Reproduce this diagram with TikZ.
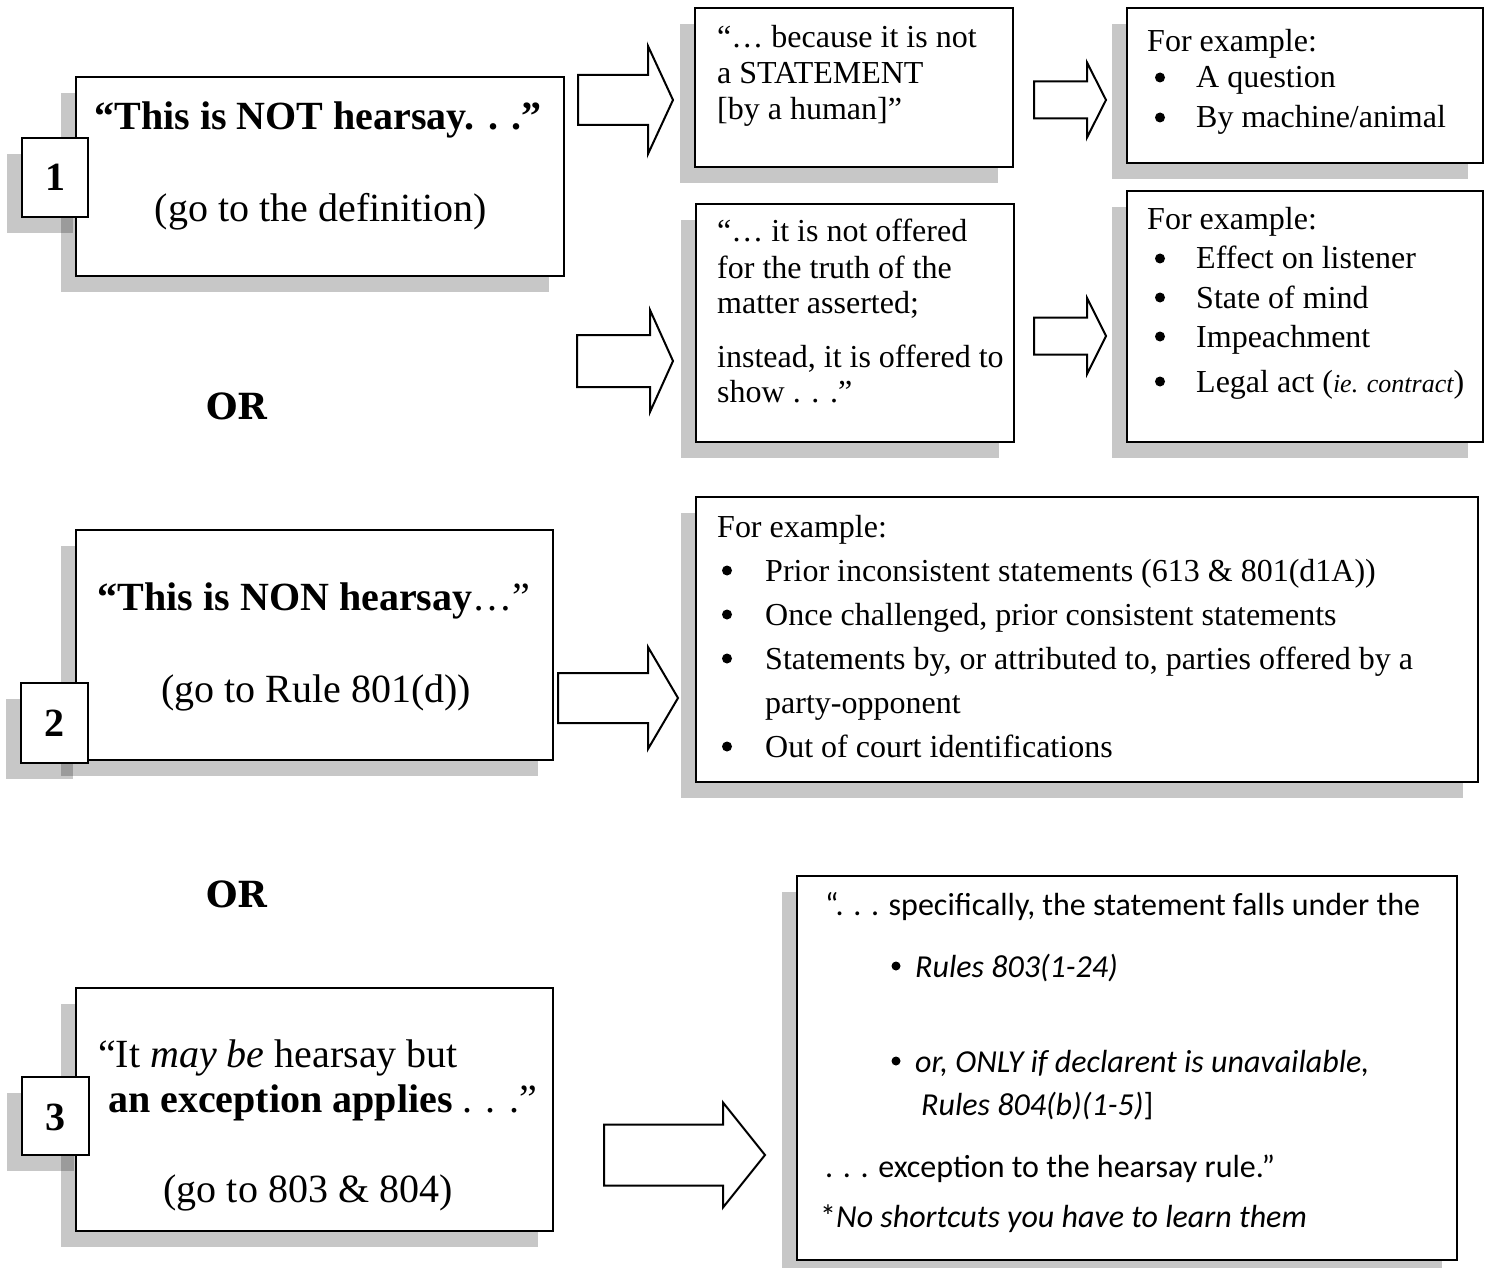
\documentclass[tikz,border=0pt]{standalone}
\usepackage{fontspec}
\setmainfont{Liberation Serif}
\newfontfamily\calfont{Carlito}
\newfontfamily\orfont{DejaVu Serif}
\usetikzlibrary{calc}
\tikzset{
  box/.style={draw=black, line width=2pt, fill=white, inner sep=0pt, outer sep=0pt, anchor=north west},
  shade/.style={fill=black, fill opacity=0.22, draw=none},
  blk/.style={draw=black, line width=2pt, fill=white, line join=miter},
  txt/.style={inner sep=0pt, anchor=base west},
  ctxt/.style={inner sep=0pt, anchor=base},
  big/.style={font=\fontsize{40}{46}\selectfont},
  med/.style={font=\fontsize{32}{38}\selectfont},
  cal/.style={font=\calfont\fontsize{32}{38}\selectfont},
  orst/.style={font=\orfont\bfseries\fontsize{36}{40}\selectfont},
  bul/.style={circle, fill=black, draw=none, inner sep=0pt, minimum size=10pt},
  cbul/.style={circle, fill=black, draw=none, inner sep=0pt, minimum size=9pt},
}
\newcommand\mybox[5]{%
  \fill[shade] ({#2-15},{#3+16}) rectangle ({#4-15},{#5+16});
  \pgfmathsetmacro\myw{#4-#2}\pgfmathsetmacro\myh{#5-#3}%
  \node[box, minimum width=\myw pt, minimum height=\myh pt] (#1) at (#2,#3) {};
}
\newcommand\blockarr[6]{%
  \draw[blk] (#1,{#4-#5}) -- (#2,{#4-#5}) -- (#2,{#4-#6}) -- (#3,#4) -- (#2,{#4+#6}) -- (#2,{#4+#5}) -- (#1,{#4+#5}) -- cycle;
}
\begin{document}
\begin{tikzpicture}[x=1pt,y=-1pt]
\useasboundingbox (0,0) rectangle (1489,1268);

% ---------- Row 1 ----------
\mybox{b1}{76}{77}{564}{276}
\mybox{n1}{22}{138}{88}{217}
\node[ctxt,big] (b1a) at (318,130) {\bfseries “This is NOT hearsay. . .”};
\node[ctxt,big] (b1b) at (321,222) {(go to the definition)};
\node[ctxt,big] (n1t) at (55,191) {\bfseries 1};

\mybox{t1}{695}{8}{1013}{167}
\node[txt,med] (t1a) at (717,48) {“… because it is not};
\node[txt,med] (t1b) at (717,84) {a STATEMENT};
\node[txt,med] (t1c) at (717,120) {[by a human]”};

\mybox{t2}{1127}{8}{1483}{163}
\node[txt,med] (t2a) at (1147,52) {For example:};
\node[bul] (t2b1) at (1160,77.5) {};
\node[txt,med] (t2b) at (1196,88) {A question};
\node[bul] (t2c1) at (1160,117.5) {};
\node[txt,med] (t2c) at (1196,128) {By machine/animal};

\mybox{m1}{696}{204}{1014}{442}
\node[txt,med] (m1a) at (717,242) {“… it is not offered};
\node[txt,med] (m1b) at (717,278) {for the truth of the};
\node[txt,med] (m1c) at (717,313) {matter asserted;};
\node[txt,med] (m1d) at (717,367) {instead, it is offered to};
\node[txt,med] (m1e) at (717,402) {show . . .”};

\mybox{m2}{1127}{191}{1483}{442}
\node[txt,med] (m2a) at (1147,230) {For example:};
\node[bul] (m2b1) at (1160,258.5) {};
\node[txt,med] (m2b) at (1196,269) {Effect on listener};
\node[bul] (m2c1) at (1160,297.5) {};
\node[txt,med] (m2c) at (1196,308) {State of mind};
\node[bul] (m2d1) at (1160,336.5) {};
\node[txt,med] (m2d) at (1196,347) {Impeachment};
\node[bul] (m2e1) at (1160,381.5) {};
\node[txt,med] (m2e) at (1196,392) {Legal act ({\fontsize{26}{30}\selectfont\itshape ie. contract})};

\blockarr{578}{648}{673}{100}{25}{54}
\blockarr{577}{650}{673}{361}{26}{51}
\blockarr{1034}{1087}{1106}{100}{18.5}{37.5}
\blockarr{1034}{1087}{1106}{336}{18.5}{38}

\node[ctxt,orst] (or1) at (237,419) {OR};

% ---------- Row 2 ----------
\mybox{b2}{76}{530}{553}{760}
\mybox{n2}{21}{683}{88}{763}
\node[ctxt,big] (b2a) at (314,610) {\textbf{“This is NON hearsay}…”};
\node[ctxt,big] (b2b) at (316,702) {(go to Rule 801(d))};
\node[ctxt,big] (n2t) at (54.5,736) {\bfseries 2};

\mybox{r2}{696}{497}{1478}{782}
\node[txt,med] (r2a) at (717,537) {For example:};
\node[bul] (r2b1) at (727,570.5) {};
\node[txt,med] (r2b) at (765,581) {Prior inconsistent statements (613 \& 801(d1A))};
\node[bul] (r2c1) at (727,614.5) {};
\node[txt,med] (r2c) at (765,625) {Once challenged, prior consistent statements};
\node[bul] (r2d1) at (727,658.5) {};
\node[txt,med] (r2d) at (765,669) {Statements by, or attributed to, parties offered by a};
\node[txt,med] (r2e) at (765,713) {party-opponent};
\node[bul] (r2f1) at (727,746.5) {};
\node[txt,med] (r2f) at (765,757) {Out of court identifications};

\blockarr{558}{648}{678}{698}{25}{51}

\node[ctxt,orst] (or2) at (237,907) {OR};

% ---------- Row 3 ----------
\mybox{b3}{76}{988}{553}{1231}
\mybox{n3}{22}{1077}{89}{1155}
\node[txt,big] (b3a) at (98,1067) {“It \textit{may be} hearsay but};
\node[txt,big] (b3b) at (108,1112) {\textbf{an exception applies} . . .”};
\node[ctxt,big] (b3c) at (308,1202) {(go to 803 \& 804)};
\node[ctxt,big] (n3t) at (55.5,1130) {\bfseries 3};

\mybox{r3}{797}{876}{1457}{1260}
\node[txt,cal] (r3a) at (825,915) {“. . . specifically, the statement falls under the};
\node[cbul] (r3b1) at (896,966) {};
\node[txt,cal] (r3b) at (915,977) {\itshape Rules 803(1-24)};
\node[cbul] (r3c1) at (896,1061) {};
\node[txt,cal] (r3c) at (915,1072) {\itshape or, ONLY if declarent is unavailable,};
\node[txt,cal] (r3d) at (921,1115) {\textit{Rules 804(b)(1-5)}]};
\node[txt,cal] (r3e) at (825,1177) {. . . exception to the hearsay rule.”};
\node[txt,cal] (r3f) at (820,1227) {*\textit{No shortcuts you have to learn them}};

\blockarr{604}{723}{765}{1155}{30.5}{52.5}
\end{tikzpicture}
\end{document}
